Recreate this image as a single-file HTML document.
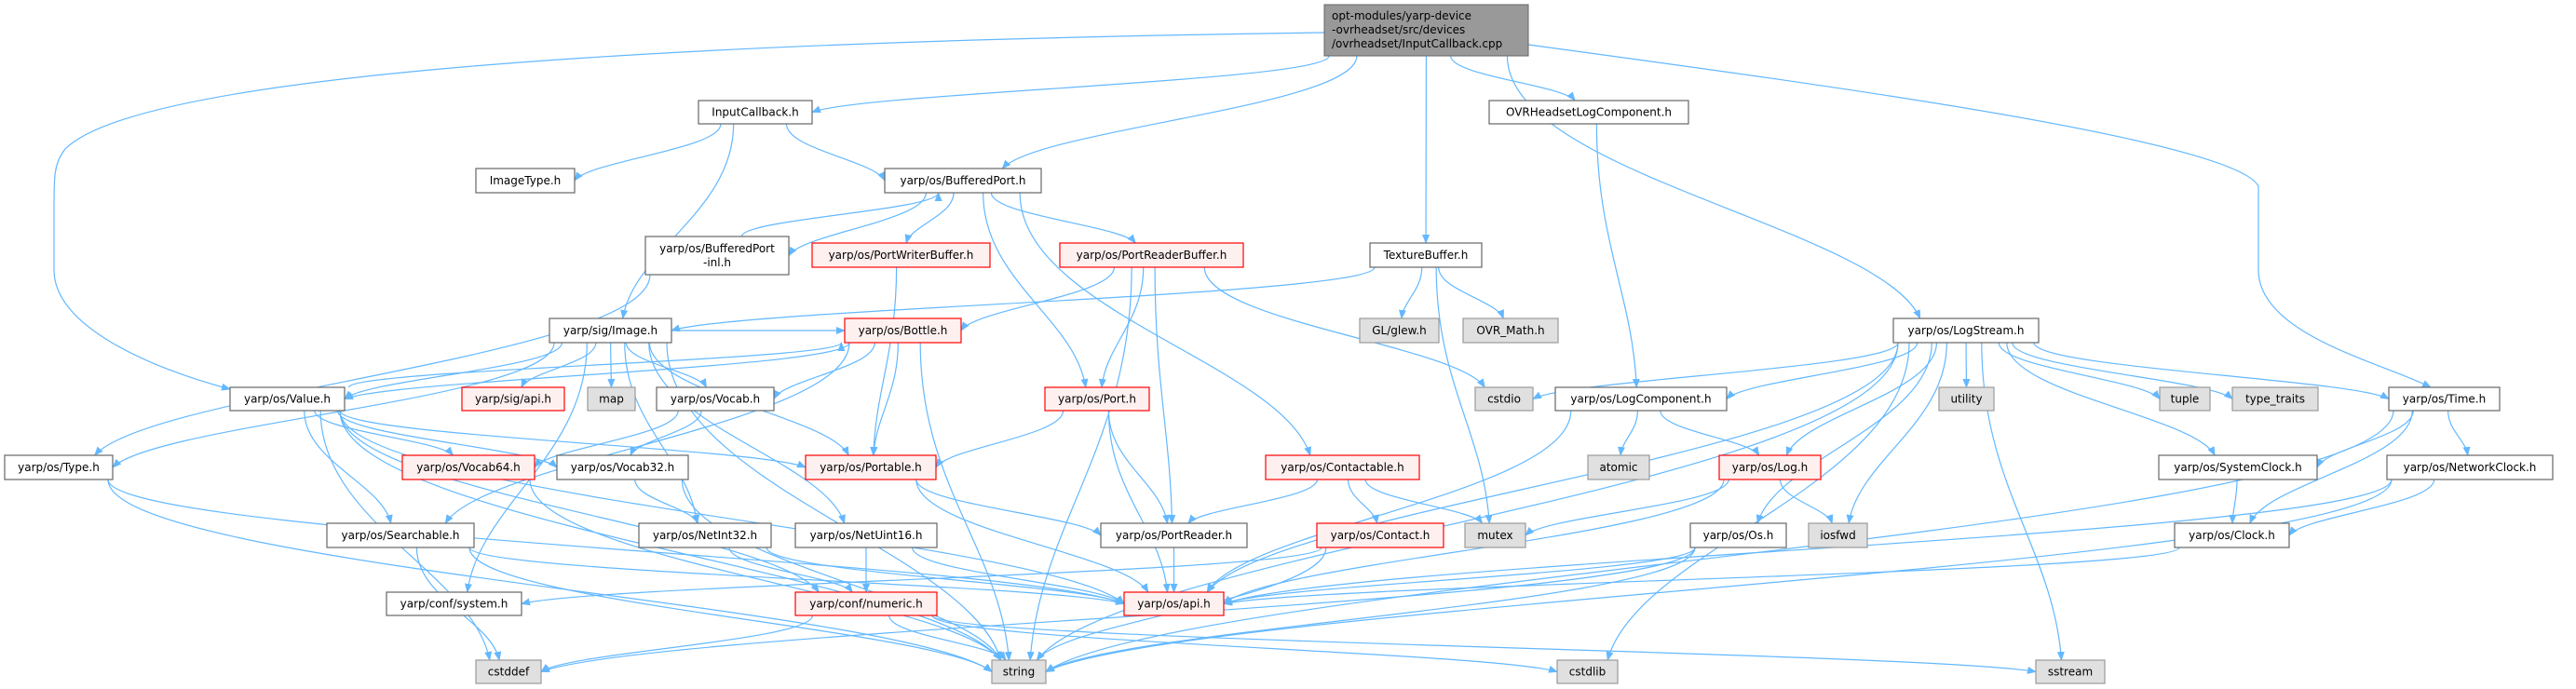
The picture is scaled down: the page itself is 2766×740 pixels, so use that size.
<!DOCTYPE html>
<html><head><meta charset="utf-8"><style>
html,body{margin:0;padding:0;background:#fff;}
svg{display:block;}
text{font-family:"DejaVu Sans","Liberation Sans",sans-serif;font-size:12px;fill:#000;}
</style></head><body>
<svg id="g" width="2766" height="740" viewBox="0 0 2766 740" xmlns="http://www.w3.org/2000/svg">
<defs><marker id="a" markerWidth="10" markerHeight="8" refX="9" refY="4" orient="auto" markerUnits="userSpaceOnUse"><path d="M0,0 L10,4 L0,8 z" fill="#63b8ff"/></marker></defs>
<g id="edges" fill="none" stroke="#63b8ff" stroke-width="1.2">
<path d="M1422,35 C700,45 150,80 70,160 C58,175 58,190 58,220 L58,290 C58,350 160,395 247,418" marker-end="url(#a)"/>
<path d="M1641,48 C1950,90 2400,150 2425,200 L2425,290 C2425,360 2560,390 2610,416" marker-end="url(#a)"/>
</g>
<g id="nodes">
<rect x="1422" y="5" width="219" height="55" fill="#999" stroke="#666"/>
<text x="1430" y="21">opt-modules/yarp-device</text>
<text x="1430" y="36">-ovrheadset/src/devices</text>
<text x="1430" y="51">/ovrheadset/InputCallback.cpp</text>
</g>
</svg>
<script>
var N={
InputCallback:[750,108,122,25,'w','InputCallback.h'],
ImageType:[511,181,106,26,'w','ImageType.h'],
BufferedPort:[950,181,168,26,'w','yarp/os/BufferedPort.h'],
BPInl:[693,254,154,41,'w','yarp/os/BufferedPort|-inl.h'],
PortWriterBuffer:[872,261,191,26,'r','yarp/os/PortWriterBuffer.h'],
PortReaderBuffer:[1138,261,197,26,'r','yarp/os/PortReaderBuffer.h'],
TextureBuffer:[1471,261,120,26,'w','TextureBuffer.h'],
OVRHLC:[1599,108,214,25,'w','OVRHeadsetLogComponent.h'],
LogStream:[2033,342,156,26,'w','yarp/os/LogStream.h'],
Image:[590,342,131,26,'w','yarp/sig/Image.h'],
Bottle:[907,342,125,26,'r','yarp/os/Bottle.h'],
glew:[1460,342,85,26,'g','GL/glew.h'],
OVRMath:[1571,342,102,26,'g','OVR_Math.h'],
Value:[247,416,123,25,'w','yarp/os/Value.h'],
sigapi:[496,416,110,25,'r','yarp/sig/api.h'],
map:[631,416,51,25,'g','map'],
Vocab:[705,416,126,25,'w','yarp/os/Vocab.h'],
Port:[1122,416,112,25,'r','yarp/os/Port.h'],
cstdio:[1584,416,62,25,'g','cstdio'],
LogComponent:[1670,416,184,25,'w','yarp/os/LogComponent.h'],
utility:[2082,416,59,25,'g','utility'],
tuple:[2319,416,54,25,'g','tuple'],
type_traits:[2397,416,92,25,'g','type_traits'],
Time:[2565,416,119,25,'w','yarp/os/Time.h'],
Type:[5,489,116,26,'w','yarp/os/Type.h'],
Vocab64:[432,489,142,26,'r','yarp/os/Vocab64.h'],
Vocab32:[598,489,141,26,'w','yarp/os/Vocab32.h'],
Portable:[865,489,140,26,'r','yarp/os/Portable.h'],
Contactable:[1359,489,165,26,'r','yarp/os/Contactable.h'],
atomic:[1705,489,66,26,'g','atomic'],
Log:[1846,489,109,26,'r','yarp/os/Log.h'],
SystemClock:[2318,489,170,26,'w','yarp/os/SystemClock.h'],
NetworkClock:[2563,489,178,26,'w','yarp/os/NetworkClock.h'],
Searchable:[351,562,158,26,'w','yarp/os/Searchable.h'],
NetInt32:[686,562,142,26,'w','yarp/os/NetInt32.h'],
NetUint16:[854,562,152,26,'w','yarp/os/NetUint16.h'],
PortReader:[1182,562,157,26,'w','yarp/os/PortReader.h'],
Contact:[1414,562,136,26,'r','yarp/os/Contact.h'],
mutex:[1573,562,65,26,'g','mutex'],
Os:[1815,562,103,26,'w','yarp/os/Os.h'],
iosfwd:[1942,562,63,26,'g','iosfwd'],
Clock:[2335,562,123,26,'w','yarp/os/Clock.h'],
system:[415,636,145,25,'w','yarp/conf/system.h'],
numeric:[854,636,152,25,'r','yarp/conf/numeric.h'],
api:[1207,636,107,25,'r','yarp/os/api.h'],
cstddef:[511,709,70,25,'g','cstddef'],
string:[1065,709,58,25,'g','string'],
cstdlib:[1672,709,65,25,'g','cstdlib'],
sstream:[2186,709,74,25,'g','sstream'],
main:[1422,5,219,55,'x','']
};
var E=[
['main','InputCallback'],['main','BufferedPort'],['main','TextureBuffer'],['main','OVRHLC'],['main','LogStream'],
['InputCallback','ImageType'],['InputCallback','BufferedPort'],['InputCallback','Image'],
['BufferedPort','BPInl'],['BPInl','BufferedPort'],['BufferedPort','PortWriterBuffer'],['BufferedPort','PortReaderBuffer'],['BufferedPort','Port'],['BufferedPort','Contactable'],
['BPInl','Type'],['PortWriterBuffer','Portable'],
['PortReaderBuffer','Bottle'],['PortReaderBuffer','Port'],['PortReaderBuffer','PortReader'],['PortReaderBuffer','string'],['PortReaderBuffer','cstdio'],
['TextureBuffer','Image'],['TextureBuffer','glew'],['TextureBuffer','OVRMath'],['TextureBuffer','mutex'],
['OVRHLC','LogComponent'],
['Image','Type'],['Image','Value'],['Image','sigapi'],['Image','map'],['Image','Vocab'],['Image','Portable'],['Image','Bottle'],['Image','NetInt32'],['Image','NetUint16'],['Image','system'],['Image','string'],
['Bottle','Value'],['Value','Bottle'],['Bottle','Vocab'],['Bottle','Portable'],['Bottle','Searchable'],['Bottle','string'],
['Value','Vocab64'],['Value','Vocab32'],['Value','Portable'],['Value','Searchable'],['Value','cstddef'],['Value','string'],['Value','api'],['Value','numeric'],
['Type','api'],['Type','string'],['Vocab','Vocab64'],['Vocab','Vocab32'],['Vocab64','string'],['Vocab32','NetInt32'],['Vocab32','string'],
['Portable','PortReader'],['Portable','api'],
['Searchable','api'],['Searchable','cstddef'],['Searchable','string'],
['NetInt32','numeric'],['NetInt32','api'],['NetUint16','numeric'],['NetUint16','api'],
['numeric','cstddef'],['numeric','string'],['numeric','cstdlib'],['numeric','sstream'],
['Port','Portable'],['Port','PortReader'],['Port','api'],['PortReader','api'],
['Contactable','PortReader'],['Contactable','Contact'],['Contactable','mutex'],
['Contact','system'],['Contact','string'],
['LogStream','cstdio'],['LogStream','LogComponent'],['LogStream','Log'],['LogStream','Os'],['LogStream','api'],['LogStream','string'],['LogStream','cstdlib'],['LogStream','utility'],['LogStream','iosfwd'],['LogStream','tuple'],['LogStream','type_traits'],['LogStream','Time'],['LogStream','SystemClock'],['LogStream','sstream'],
['LogComponent','atomic'],['LogComponent','Log'],['LogComponent','api'],
['Log','mutex'],['Log','iosfwd'],['Log','api'],
['Os','api'],['Os','string'],['Os','cstddef'],
['Time','SystemClock'],['Time','Clock'],['Time','NetworkClock'],['Time','string'],
['SystemClock','Clock'],['NetworkClock','Clock'],['NetworkClock','api'],['NetworkClock','string'],['Clock','api']
];
var NS='http://www.w3.org/2000/svg',eg=document.getElementById('edges'),ng=document.getElementById('nodes');
E.forEach(function(e){
 var s=N[e[0]],t=N[e[1]];
 var scx=s[0]+s[2]/2,tcx=t[0]+t[2]/2,d;
 if(t[1]>=s[1]+s[3]-2){
  var sx=scx+Math.max(-s[2]/2+5,Math.min(s[2]/2-5,(tcx-scx)*0.15));
  var sy=s[1]+s[3];
  var dy=t[1]-sy,dx=tcx-sx,tx,ty;
  if(Math.abs(dx)>3.5*dy && dy>20){tx=dx>0?t[0]:t[0]+t[2];ty=t[1]+t[3]/2;}
  else{tx=tcx-Math.max(-t[2]/3,Math.min(t[2]/3,dx*0.1));ty=t[1];}
  var my=(sy+ty)/2;
  d='M'+sx+','+sy+' C'+sx+','+(sy+(ty-sy)*0.45)+' '+(tx+(sx-tx)*0.1)+','+(ty-(ty-sy)*0.35)+' '+tx+','+ty;
 } else if(t[1]+t[3]<=s[1]+2){
  var sx2=scx+(tcx-scx)*0.1, sy2=s[1], tx2=tcx+(scx-tcx)*0.1, ty2=t[1]+t[3];
  d='M'+sx2+','+sy2+' C'+sx2+','+(sy2-(sy2-ty2)*0.4)+' '+tx2+','+(ty2+(sy2-ty2)*0.4)+' '+tx2+','+ty2;
 } else {
  var right=tcx>scx;
  var sx3=right?s[0]+s[2]:s[0],tx3=right?t[0]:t[0]+t[2];
  d='M'+sx3+','+(s[1]+s[3]/2)+' C'+((sx3+tx3)/2)+','+(s[1]+s[3]/2)+' '+((sx3+tx3)/2)+','+(t[1]+t[3]/2)+' '+tx3+','+(t[1]+t[3]/2);
 }
 var p=document.createElementNS(NS,'path');p.setAttribute('d',d);p.setAttribute('marker-end','url(#a)');eg.appendChild(p);
});
Object.keys(N).forEach(function(k){
 var n=N[k];if(n[4]=='x')return;
 var r=document.createElementNS(NS,'rect');
 r.setAttribute('x',n[0]);r.setAttribute('y',n[1]);r.setAttribute('width',n[2]);r.setAttribute('height',n[3]);
 var f={w:'#fff',r:'#fff0f0',g:'#e0e0e0'}[n[4]],st={w:'#666',r:'#ff0000',g:'#999'}[n[4]];
 r.setAttribute('fill',f);r.setAttribute('stroke',st);r.setAttribute('stroke-width','1.2');ng.appendChild(r);
 var lines=n[5].split('|');
 lines.forEach(function(l,i){
  var t=document.createElementNS(NS,'text');t.setAttribute('x',n[0]+n[2]/2);t.setAttribute('text-anchor','middle');
  var y=n[1]+n[3]/2+4-(lines.length-1)*7.5+i*15;t.setAttribute('y',y);t.textContent=l;ng.appendChild(t);
 });
});
</script>
</body></html>
